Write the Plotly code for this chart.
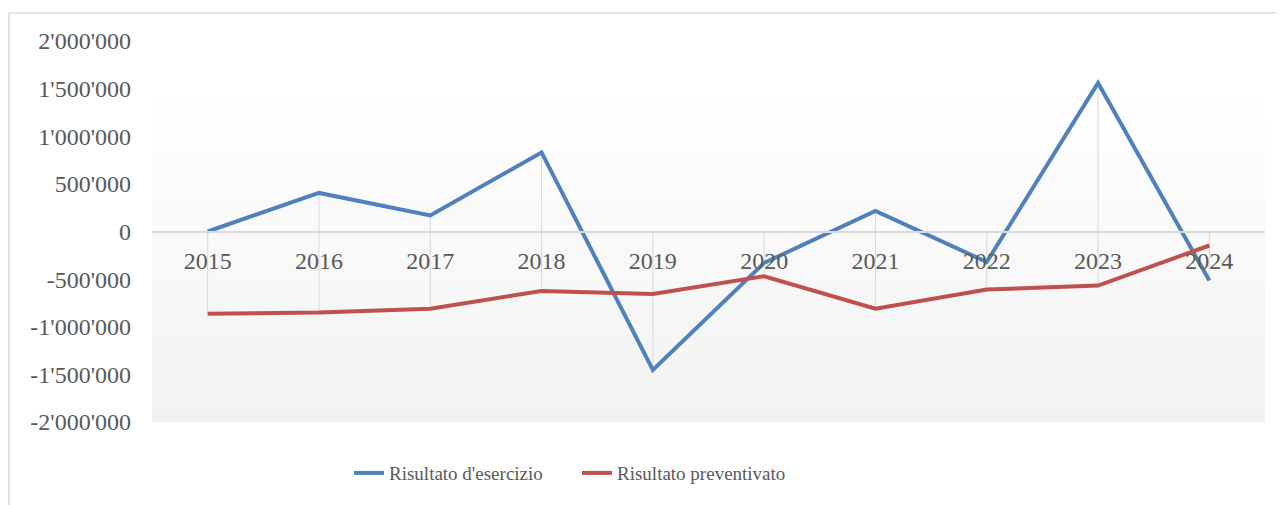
import plotly.graph_objects as go

years = ["2015", "2016", "2017", "2018", "2019", "2020", "2021", "2022", "2023", "2024"]
risultato_esercizio = [0, 405000, 168000, 830000, -1453000, -330000, 215000, -320000, 1560000, -515000]
risultato_preventivato = [-863000, -850000, -810000, -625000, -656000, -470000, -810000, -610000, -568000, -147000]
y_tick_vals = [-2000000, -1500000, -1000000, -500000, 0, 500000, 1000000, 1500000, 2000000]
y_tick_labels = ["-2'000'000", "-1'500'000", "-1'000'000", "-500'000", "0",
                 "500'000", "1'000'000", "1'500'000", "2'000'000"]

FONT = "Liberation Serif"
TXT = "#595959"

# drop lines from each point to the category axis
dx, dy = [], []
for i, c in enumerate(years):
    vals = [0, risultato_esercizio[i], risultato_preventivato[i]]
    dx += [c, c, None]
    dy += [min(vals), max(vals), None]

fig = go.Figure()
fig.add_trace(go.Scatter(x=dx, y=dy, mode="lines", line=dict(color="#d9d9d9", width=1),
                         showlegend=False, hoverinfo="skip"))
fig.add_trace(go.Scatter(x=years, y=risultato_esercizio, mode="lines", name="Risultato d'esercizio",
                         line=dict(color="#4F81BD", width=4)))
fig.add_trace(go.Scatter(x=years, y=risultato_preventivato, mode="lines", name="Risultato preventivato",
                         line=dict(color="#C0504D", width=4)))

# gradient background of plot area
shapes = []
n = 60
for k in range(n):
    y0 = k / n
    y1 = (k + 1) / n
    t = 1 - (y0 + y1) / 2  # 0 at top, 1 at bottom
    t2 = max(0.0, (t - 0.12) / 0.88)
    g = round(255 - 13 * t2)
    shapes.append(dict(type="rect", xref="paper", yref="paper", x0=0, x1=1, y0=y0, y1=y1 + 0.002,
                       fillcolor=f"rgb({g},{g},{g})", line=dict(width=0), layer="below"))
# chart border
shapes.append(dict(type="rect", xref="paper", yref="paper", x0=-0.1285, x1=1.03, y0=-0.25, y1=1.0735,
                   line=dict(color="#d9d9d9", width=1.5), fillcolor="rgba(0,0,0,0)", layer="below"))

fig.update_layout(
    width=1276, height=497,
    margin=dict(l=144, r=19, t=33, b=83, autoexpand=False),
    paper_bgcolor="white", plot_bgcolor="white",
    font=dict(family=FONT, color=TXT, size=24),
    shapes=shapes,
    showlegend=True,
    legend=dict(orientation="h", x=0.177, xanchor="left", y=-0.134, yanchor="middle",
                font=dict(family=FONT, size=19, color=TXT), entrywidth=183,
                bgcolor="rgba(0,0,0,0)"),
    xaxis=dict(type="category", range=[-0.5, 9.5], anchor="free", position=0.5,
               showline=True, linecolor="#d9d9d9", linewidth=1.5, showgrid=False, zeroline=False,
               ticks="", ticklabelstandoff=8, tickfont=dict(family=FONT, size=24, color=TXT)),
    yaxis=dict(range=[-2000000, 2000000], tickvals=y_tick_vals, ticktext=y_tick_labels,
               showgrid=False, zeroline=False, showline=False, ticks="",
               ticklabelstandoff=20, tickfont=dict(family=FONT, size=24, color=TXT)),
)

fig.write_html("out.html")
